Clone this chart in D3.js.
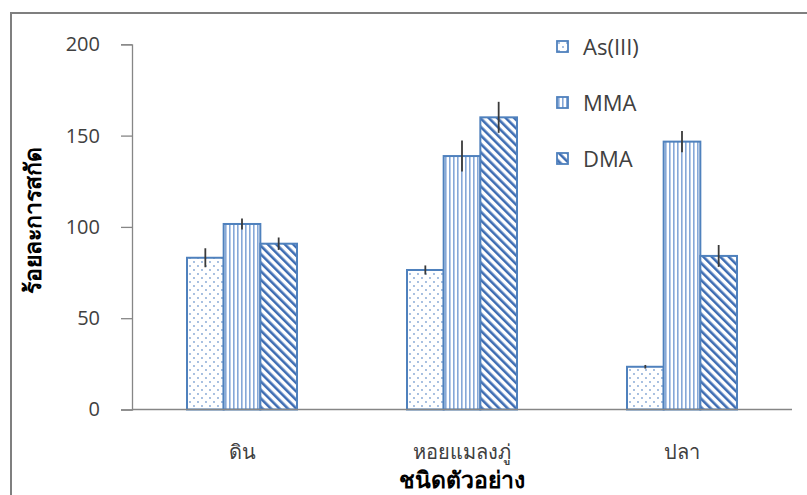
<!DOCTYPE html>
<html><head><meta charset="utf-8">
<script src="https://cdn.jsdelivr.net/npm/d3@7"></script>
<style>body{margin:0;background:#fff}svg{display:block}</style>
</head><body>
<script>
const categories = ["ดิน", "หอยแมลงภู่", "ปลา"];
const seriesNames = ["As(III)", "MMA", "DMA"];
const asIII = [83.1, 76.4, 23.4];
const mma = [101.6, 138.8, 146.7];
const dma = [90.8, 160.0, 84.1];
const errAsIII = [5.2, 2.5, 1.0];
const errMma = [3.0, 8.5, 5.8];
const errDma = [3.4, 8.5, 6.0];
const yTicks = [0, 50, 100, 150, 200];

const W = 807, H = 495;
const margin = {left: 132, right: 15, top: 44.3, bottom: 85.5};
const svg = d3.select("body").append("svg").attr("width", W).attr("height", H);
const defs = svg.append("defs");

// patterns
const pDot = defs.append("pattern").attr("id","pDot").attr("patternUnits","userSpaceOnUse")
  .attr("width",8).attr("height",8);
pDot.append("rect").attr("width",8).attr("height",8).attr("fill","#fff");
pDot.append("circle").attr("cx",2).attr("cy",2).attr("r",0.9).attr("fill","#7fa3d3");
pDot.append("circle").attr("cx",6).attr("cy",6).attr("r",0.9).attr("fill","#7fa3d3");

const pVert = defs.append("pattern").attr("id","pVert").attr("patternUnits","userSpaceOnUse")
  .attr("width",4).attr("height",4);
pVert.append("rect").attr("width",4).attr("height",4).attr("fill","#fff");
pVert.append("rect").attr("x",1).attr("width",1.6).attr("height",4).attr("fill","#86a8d8");

const pDiag = defs.append("pattern").attr("id","pDiag").attr("patternUnits","userSpaceOnUse")
  .attr("width",6).attr("height",6).attr("patternTransform","rotate(-45)");
pDiag.append("rect").attr("width",6).attr("height",6).attr("fill","#fff");
pDiag.append("rect").attr("x",0).attr("width",2.6).attr("height",6).attr("fill","#3e6db3");

const fills = ["url(#pDot)", "url(#pVert)", "url(#pDiag)"];
const stroke = "#4f81bd";

// frame
svg.append("rect").attr("x",11).attr("y",13).attr("width",830).attr("height",520)
  .attr("fill","none").attr("stroke","#7f7f7f").attr("stroke-width",2);

const x0 = d3.scaleBand().domain(categories).range([margin.left, W - margin.right]).paddingInner(0).paddingOuter(0);
const innerPad = 0.25;
const x1 = d3.scaleBand().domain(seriesNames).range([x0.bandwidth()*innerPad, x0.bandwidth()*(1-innerPad)]);
const y = d3.scaleLinear().domain([0, 200]).range([H - margin.bottom, margin.top]);

// y axis
const yAxis = svg.append("g").attr("transform", `translate(${margin.left},0)`)
  .call(d3.axisLeft(y).tickValues(yTicks).tickSize(11).tickPadding(21));
yAxis.select(".domain").attr("stroke","#868686").attr("stroke-width",1.3);
yAxis.selectAll(".tick line").attr("stroke","#868686").attr("stroke-width",1.3);
yAxis.selectAll("text").attr("font-family","'Open Sans', sans-serif").attr("font-size",20)
  .attr("fill","#404040");

// bars
const data = categories.map((c,i)=>({cat:c, vals:[
  {s:seriesNames[0], v:asIII[i], e:errAsIII[i]},
  {s:seriesNames[1], v:mma[i], e:errMma[i]},
  {s:seriesNames[2], v:dma[i], e:errDma[i]}]}));

const g = svg.selectAll("g.grp").data(data).join("g").attr("class","grp")
  .attr("transform", d=>`translate(${x0(d.cat)},0)`);
g.selectAll("rect").data(d=>d.vals).join("rect")
  .attr("x", d=>x1(d.s)).attr("width", x1.bandwidth())
  .attr("y", d=>y(d.v)).attr("height", d=>y(0)-y(d.v))
  .attr("fill", (d,i)=>fills[i]).attr("stroke", stroke).attr("stroke-width",2);
g.selectAll("line.err").data(d=>d.vals).join("line").attr("class","err")
  .attr("x1", d=>x1(d.s)+x1.bandwidth()/2).attr("x2", d=>x1(d.s)+x1.bandwidth()/2)
  .attr("y1", d=>y(d.v+d.e)).attr("y2", d=>y(d.v-d.e))
  .attr("stroke","#3a3a3a").attr("stroke-width",1.8);

// x axis line
svg.append("line").attr("x1",margin.left).attr("x2",W-margin.right)
  .attr("y1",y(0)).attr("y2",y(0)).attr("stroke","#868686").attr("stroke-width",1.3);

// x labels
svg.selectAll("text.xl").data(categories).join("text").attr("class","xl")
  .attr("x", d=>x0(d)+x0.bandwidth()/2).attr("y", 459)
  .attr("text-anchor","middle").attr("font-family","'Noto Sans', sans-serif").attr("font-size",20)
  .attr("fill","#404040").text(d=>d);

// axis titles
svg.append("text").attr("x", x0.range()[0] + (x0.range()[1]-x0.range()[0])/2).attr("y", 488)
  .attr("text-anchor","middle").attr("font-family","'Noto Sans', sans-serif").attr("font-weight","bold")
  .attr("font-size",23).attr("fill","#000").text("ชนิดตัวอย่าง");
svg.append("text").attr("transform", `translate(41,220) rotate(-90)`)
  .attr("text-anchor","middle").attr("font-family","'Noto Sans', sans-serif").attr("font-weight","bold")
  .attr("font-size",23).attr("fill","#000").text("ร้อยละการสกัด");

// legend
const leg = svg.selectAll("g.leg").data(seriesNames).join("g").attr("class","leg")
  .attr("transform", (d,i)=>`translate(557,${41 + i*56})`);
leg.append("rect").attr("width",11).attr("height",11).attr("fill",(d,i)=>fills[i])
  .attr("stroke",stroke).attr("stroke-width",1.8);
leg.append("text").attr("x",26).attr("y",6).attr("dy","0.35em")
  .attr("font-family","'Open Sans', sans-serif").attr("font-size",22).attr("fill","#404040").text(d=>d);
</script>
</body></html>
